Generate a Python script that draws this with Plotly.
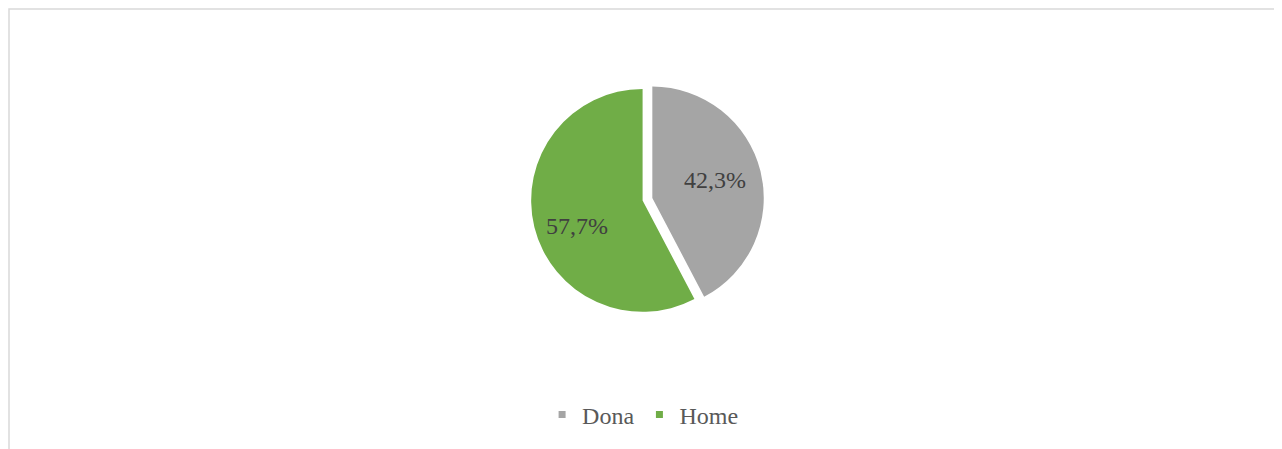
import plotly.graph_objects as go

labels = ["Dona", "Home"]
values = [42.3, 57.7]
colors = ["#a5a5a5", "#70ad47"]
pulls = [0.09, 0]
label_pos = [(0.5515, 0.617), (0.4438, 0.5145)]

fig = go.Figure()
fig.add_trace(go.Pie(
    labels=labels, values=values, sort=False, direction="clockwise", rotation=0,
    pull=pulls, marker=dict(colors=colors, line=dict(width=0)),
    textinfo="none", showlegend=False,
    domain=dict(x=[0.201, 0.789], y=[0.3009, 0.8419]),
    hoverinfo="label+percent",
))
for lab, col in zip(labels, colors):
    fig.add_trace(go.Scatter(x=[None], y=[None], mode="markers", name=lab,
                             marker=dict(symbol="square", size=7, color=col)))

total = sum(values)
for v, (px, py) in zip(values, label_pos):
    txt = f"{100 * v / total:.1f}%".replace(".", ",")
    fig.add_annotation(x=px, y=py, xref="paper", yref="paper", text=txt, showarrow=False,
                       font=dict(family="Liberation Serif", size=24, color="#404040"))

fig.update_layout(
    width=1282, height=449, separators=",.",
    margin=dict(l=0, r=0, t=0, b=0),
    paper_bgcolor="white", plot_bgcolor="white",
    xaxis=dict(visible=False), yaxis=dict(visible=False),
    legend=dict(orientation="h", x=0.495, xanchor="center", y=0.0935, yanchor="middle",
                font=dict(family="Liberation Serif", size=24, color="#595959"),
                itemclick=False),
    shapes=[dict(type="rect", xref="paper", yref="paper", x0=1/1282, x1=1272/1282,
                 y0=-0.2, y1=1 - 1/449, line=dict(color="#d9d9d9", width=1.5))],
)
fig.write_html("out.html")
